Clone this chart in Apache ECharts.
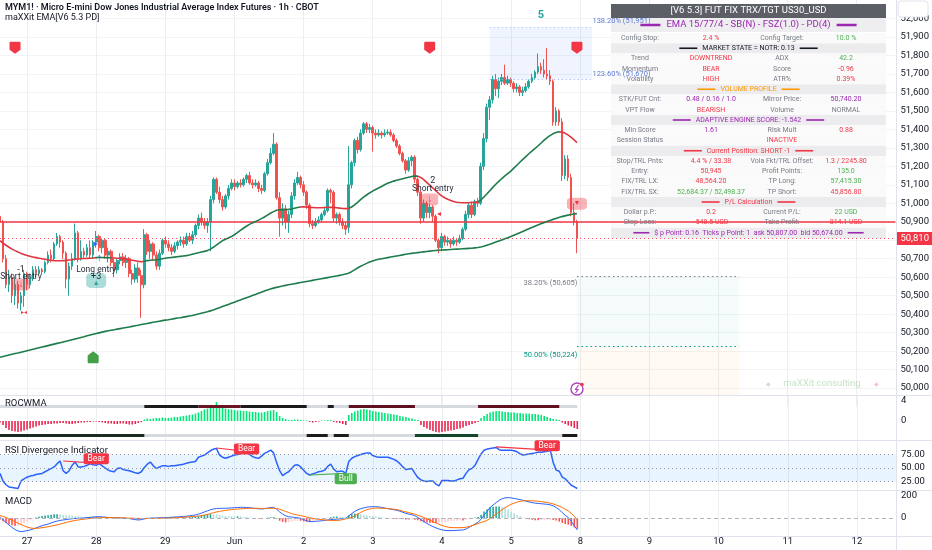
<!DOCTYPE html>
<html><head><meta charset="utf-8">
<script src="https://cdn.jsdelivr.net/npm/echarts@6/dist/echarts.min.js"></script>
<style>html,body{margin:0;padding:0;background:#fff}#c{width:932px;height:550px}</style>
</head><body><div id="c"></div>
<script>
// ---------- DATA ----------
const dayLabels = ['26','27','28','29','Jun','2','3','4','5','8','9','10','11','12'];
const barsPerDay = 23, firstBar = 14, slotCount = 299;

const opens = [50930,50900,50700,50560,50600,50500,50560,50460,50500,50620,
50560,50600,50640,50620,50640,50630,50680,50720,50700,50780,
50820,50790,50730,50590,50660,50700,50840,50700,50740,50720,
50760,50720,50790,50820,50760,50800,50720,50740,50680,50640,
50690,50710,50680,50700,50620,50590,50650,50610,50560,50830,
50740,50780,50720,50660,50730,50800,50780,50760,50740,50770,
50790,50800,50780,50820,50800,50830,50880,50920,50900,50880,
50900,51020,51130,51060,51020,50980,51040,51080,51110,51090,
51110,51100,51130,51150,51110,51100,51110,51080,51070,51160,
51220,51270,51320,51030,50920,50970,50900,50940,51040,51110,
51140,51100,51060,50990,50890,50880,50900,50910,50940,50960,
51070,51060,50920,50940,50900,50880,50870,51100,51220,51340,
51290,51380,51430,51400,51410,51380,51370,51380,51370,51380,
51385,51370,51340,51310,51270,51230,51180,51230,51250,51130,
51060,50920,51000,50950,50980,50930,50800,50760,50820,50790,
50800,50780,50800,50790,50810,50860,50940,50990,50940,51010,
51000,51200,51350,51520,51560,51670,51620,51660,51680,51650,
51670,51650,51620,51630,51600,51610,51630,51660,51680,51710,
51740,51720,51700,51690,51660,51440,51500,51440,51150,51240,
51140,50950,50900];
const highs = [50960,50910,50720,50640,50620,50600,50580,50520,50640,50630,
50620,50660,50660,50660,50650,50690,50740,50750,50790,50840,
50830,50800,50740,50680,50730,50890,50850,50800,50760,50780,
50800,50800,50850,50830,50810,50810,50760,50750,50700,50700,
50730,50730,50720,50710,50640,50670,50680,50640,50860,50840,
50800,50790,50740,50750,50810,50820,50800,50780,50790,50800,
50820,50820,50840,50840,50850,50890,50940,50950,50920,50920,
51040,51140,51140,51090,51040,51050,51100,51130,51130,51120,
51130,51140,51160,51170,51130,51130,51120,51100,51170,51240,
51300,51380,51330,51060,51000,50990,50960,51060,51130,51170,
51150,51120,51070,51000,50910,50920,50930,50950,50980,51080,
51080,51070,50950,50950,50920,50900,51310,51230,51350,51360,
51400,51440,51440,51430,51420,51400,51400,51390,51400,51400,
51400,51380,51350,51320,51280,51240,51250,51260,51260,51140,
51070,51020,51010,51000,50990,50940,50810,50840,50830,50820,
50810,50820,50810,50830,50870,50960,51000,51010,51020,51030,
51220,51380,51540,51580,51690,51700,51680,51700,51750,51690,
51680,51660,51650,51640,51630,51650,51670,51700,51720,51810,
51760,51780,51840,51720,51670,51520,51510,51460,51260,51260,
51160,51000,50910];
const lows = [50880,50680,50540,50520,50460,50450,50430,50420,50440,50530,
50540,50580,50600,50610,50615,50620,50670,50680,50690,50770,
50760,50700,50540,50500,50640,50690,50680,50690,50700,50710,
50700,50700,50760,50740,50730,50700,50680,50660,50600,50620,
50670,50660,50650,50600,50560,50570,50570,50380,50540,50720,
50700,50690,50640,50640,50720,50760,50740,50720,50730,50750,
50770,50760,50770,50790,50780,50820,50860,50880,50860,50840,
50740,51000,51050,51000,50960,50970,51020,51070,51070,51080,
51085,51090,51110,51100,51080,51090,51060,51050,51060,51150,
51210,51260,51020,50820,50880,50860,50840,50920,51020,51100,
51080,51040,50970,50870,50860,50870,50890,50900,50930,50950,
51000,50900,50890,50880,50860,50830,50840,51080,51200,51270,
51280,51370,51380,51380,51280,51350,51360,51350,51360,51370,
51360,51330,51300,51260,51220,51160,51170,51200,51110,51040,
50890,50900,50920,50920,50900,50790,50730,50740,50770,50770,
50760,50770,50770,50780,50800,50850,50920,50920,50930,50980,
50990,51180,51330,51450,51540,51580,51570,51640,51640,51640,
51630,51600,51600,51580,51580,51600,51620,51650,51670,51700,
51700,51680,51670,51640,51420,51420,51420,51120,51130,51120,
50930,50880,50730];
const closes = [50900,50700,50560,50600,50500,50560,50460,50500,50620,50560,
50600,50640,50620,50640,50630,50680,50720,50700,50780,50820,
50790,50730,50590,50660,50700,50840,50700,50740,50720,50760,
50720,50790,50820,50760,50800,50720,50740,50680,50640,50690,
50710,50680,50700,50620,50590,50650,50610,50560,50830,50740,
50780,50720,50660,50730,50800,50780,50760,50740,50770,50790,
50800,50780,50820,50800,50830,50880,50920,50900,50880,50900,
51020,51130,51060,51020,50980,51040,51080,51110,51090,51110,
51100,51130,51150,51110,51100,51110,51080,51070,51160,51220,
51270,51320,51030,50920,50970,50900,50940,51040,51110,51140,
51100,51060,50990,50890,50880,50900,50910,50940,50960,51070,
51060,50920,50940,50900,50880,50860,51100,51220,51340,51290,
51380,51430,51400,51410,51380,51370,51380,51370,51380,51385,
51370,51340,51310,51270,51230,51180,51230,51250,51130,51060,
50920,51000,50950,50980,50930,50800,50760,50820,50790,50800,
50780,50800,50790,50810,50860,50940,50990,50940,51010,51000,
51200,51350,51520,51560,51670,51620,51660,51680,51650,51670,
51650,51620,51630,51600,51610,51630,51660,51680,51710,51740,
51720,51700,51690,51660,51440,51500,51440,51150,51240,51140,
50950,50900,50810];

const emaFast = [50798,50785,50773,50762,50752,50744,50736,50729,50723,50718,
50713,50709,50706,50703,50700,50697,50694,50692,50690,50689,
50689,50690,50691,50693,50695,50698,50699,50700,50701,50702,
50703,50704,50706,50707,50707,50706,50706,50705,50704,50703,
50702,50700,50698,50695,50692,50689,50686,50684,50686,50690,
50692,50693,50694,50696,50700,50703,50705,50707,50709,50711,
50713,50715,50717,50720,50724,50728,50732,50736,50740,50744,
50752,50762,50774,50786,50797,50805,50812,50820,50830,50841,
50853,50865,50876,50886,50894,50901,50909,50917,50926,50936,
50946,50955,50962,50965,50966,50966,50967,50969,50973,50977,
50980,50981,50980,50978,50977,50976,50976,50976,50977,50978,
50979,50978,50976,50974,50972,50971,50972,50980,50992,51005,
51020,51033,51045,51056,51066,51075,51083,51091,51100,51108,
51114,51120,51125,51129,51133,51137,51141,51145,51148,51147,
51140,51128,51113,51098,51084,51068,51053,51040,51030,51022,
51015,51010,51006,51004,51003,51003,51003,51004,51005,51008,
51018,51033,51050,51068,51086,51103,51119,51134,51148,51161,
51174,51190,51206,51222,51238,51253,51268,51282,51296,51310,
51325,51340,51354,51366,51376,51383,51387,51386,51380,51370,
51358,51344,51328];
const fastTrend = [[0,32,'dn'],[32,37,'up'],[37,48,'dn'],[48,100,'up'],[100,116,'dn'],[116,139,'up'],[139,159,'dn'],[159,186,'up'],[186,193,'dn']];
const emaSlow = [50167,50171,50175,50179,50183,50187,50190,50194,50198,50202,
50206,50210,50214,50218,50222,50226,50230,50234,50238,50242,
50246,50250,50254,50258,50262,50266,50270,50274,50278,50283,
50287,50291,50295,50299,50303,50307,50310,50313,50316,50319,
50322,50325,50328,50331,50334,50337,50340,50344,50347,50350,
50353,50356,50359,50362,50365,50368,50370,50373,50376,50379,
50381,50384,50387,50390,50393,50397,50401,50405,50409,50413,
50418,50423,50429,50435,50441,50447,50453,50459,50465,50471,
50477,50483,50489,50495,50501,50507,50513,50519,50525,50531,
50536,50541,50545,50549,50553,50556,50559,50562,50565,50568,
50571,50574,50577,50580,50583,50586,50589,50592,50595,50598,
50601,50604,50607,50610,50613,50617,50622,50630,50640,50650,
50659,50667,50675,50682,50688,50693,50697,50700,50703,50706,
50709,50712,50715,50718,50721,50724,50727,50729,50731,50733,
50735,50737,50739,50741,50743,50745,50746,50747,50748,50749,
50750,50751,50752,50753,50754,50755,50756,50757,50759,50761,
50764,50768,50773,50778,50784,50790,50796,50802,50808,50814,
50820,50827,50834,50841,50848,50855,50862,50869,50876,50883,
50889,50895,50901,50907,50913,50918,50923,50928,50932,50936,
50939,50942,50944];

const rocValues = [-0.3,-0.8,-1.4,-1.8,-2.0,-2.1,-2.2,-2.1,-1.9,-1.7,-1.5,-1.3,-1.1,-0.9,-0.8,-0.7,
-0.6,-0.6,-0.5,-0.5,-0.4,-0.4,-0.5,-0.6,-0.6,-0.5,-0.4,-0.3,-0.3,-0.2,-0.2,-0.1,-0.1,-0.2,-0.3,-0.4,-0.5,-0.5,-0.6,-0.6,-0.5,-0.5,-0.6,-0.7,-0.7,-0.6,-0.4,-0.2,
0.3,0.5,0.4,0.5,0.6,0.6,0.7,0.6,0.6,0.7,0.8,0.8,0.9,1.0,1.1,1.2,1.3,1.5,1.7,
2.0,2.3,2.5,2.8,3.2,3.8,2.7,2.6,2.5,2.4,2.3,
2.2,2.1,2.1,2.0,2.0,1.9,1.8,1.8,1.7,1.7,1.8,2.0,2.1,2.2,1.8,
1.0,0.6,0.4,0.2,0.2,0.3,0.3,0.2,0.1,0.1,-0.2,-0.3,-0.2,-0.1,0.1,0.1,0.2,0.2,-0.2,-0.3,-0.4,-0.6,-0.8,
1.2,1.6,1.9,2.1,2.3,2.4,2.3,2.2,2.0,1.9,1.8,1.7,1.6,1.5,1.4,1.3,1.2,1.0,0.9,0.8,0.6,0.5,0.3,0.2,
-0.8,-1.2,-1.5,-1.8,-2.0,-2.2,-2.3,-2.2,-2.1,-2.0,-1.9,-1.8,-1.6,-1.5,-1.3,-1.0,-0.8,-0.6,-0.4,-0.2,
0.6,1.0,1.4,1.7,1.9,2.0,2.0,1.9,1.8,1.8,1.7,1.7,1.6,1.6,1.5,1.5,1.5,1.4,1.4,1.3,1.2,1.0,0.8,0.6,0.4,0.3,0.2,
-0.3,-0.6,-0.9,-1.1,-1.4,-1.6];
const rocTopLevel = 3, rocBottomLevel = -2.8;
const rocTopSegments = [[48,66,'#1c1c1c'],[66,80,'#6d1424'],[80,102,'#1c1c1c'],[109,111,'#1c1c1c'],[116,138,'#5e1020'],[159,186,'#5e1020']];
const rocBottomSegments = [[0,48,'#1c2b22'],[102,109,'#1c1c1c'],[111,116,'#1c1c1c'],[138,159,'#12452a'],[187,192,'#1c1c1c']];

const rsiValues = [40,26,19,15,14,13,12,26,30,33,
35,36,38,39,40,43,46,49,52,58,
63,45,40,45,55,61,52,52,53,55,
58,56,55,58,54,50,46,44,43,49,
50,47,46,45,43,41,40,43,51,57,
61,54,49,52,54,54,53,54,54,55,
56,57,59,60,61,62,70,72,74,78,
82,85,86,74,70,68,70,72,74,75,
77,78,79,75,71,69,68,72,77,80,
83,78,60,45,36,40,43,49,55,56,
52,46,40,37,39,41,43,44,46,53,
57,48,43,44,44,40,62,68,71,73,
75,77,78,78,73,71,70,70,70,70,
68,66,63,58,52,47,48,49,40,32,
28,26,25,26,26,20,17,27,27,27,
26,26,28,30,31,40,47,49,55,66,
76,83,85,86,87,88,84,83,83,83,
83,82,80,76,74,75,76,77,78,79,
79,80,81,83,60,46,44,33,30,24,
18,15,12];
const rsiDivergences = [[21,63,33,58.7,'Bear'],[72,87,86,78,'Bear'],[103,37,115,40,'Bull'],[165,89,183,83,'Bear']];
const rsiDivLabels = [[32,67,'Bear'],[82,85,'Bear'],[115,30,'Bull'],[182,91,'Bear']];

const macdLine = [5,-15,-40,-64,-85,-105,-118,-124,-120,-115,
-109,-100,-90,-80,-70,-62,-55,-45,-35,-28,
-22,-18,-14,-10,-7,-4,-3,-2,0,3,
6,9,11,12,10,8,5,3,2,1,
0,-2,-3,-5,-10,-15,-18,-15,-8,-3,
-2,-1,0,1,2,3,5,7,9,10,
12,14,16,20,24,28,35,45,55,65,
75,82,86,88,88,89,90,92,94,96,
97,97,96,94,90,86,84,82,85,90,
95,97,80,55,35,20,12,8,5,2,
-3,-15,-25,-33,-33,-30,-28,-25,-22,-18,
-15,-12,-10,-8,-5,-3,20,40,60,75,
85,92,98,102,103,103,100,96,90,85,
80,75,70,62,52,42,35,30,20,5,
-15,-33,-50,-65,-78,-90,-100,-108,-112,-115,
-115,-114,-112,-110,-109,-100,-85,-70,-55,-40,
-10,25,60,95,118,140,160,175,183,185,
183,178,172,168,160,153,146,140,135,132,
130,127,124,120,110,95,75,50,25,5,
-30,-70,-109];
const macdSignal = [22,15,5,-8,-20,-33,-48,-60,-72,-82,
-90,-94,-94,-92,-88,-84,-79,-74,-68,-62,
-55,-48,-40,-33,-28,-22,-18,-14,-10,-7,
-4,-2,0,2,3,4,4,4,3,3,
2,1,0,-1,-2,-3,-4,-5,-5,-5,
-4,-4,-3,-3,-2,-2,-1,0,1,3,
5,7,9,11,13,15,18,22,27,33,
40,48,55,60,65,70,73,76,79,81,
83,85,87,88,88,88,88,87,87,87,
88,89,87,80,70,60,50,40,32,27,
22,15,9,3,-3,-8,-12,-15,-18,-20,
-22,-24,-23,-20,-15,-8,-3,5,20,35,
50,65,75,82,88,90,90,89,88,86,
83,80,76,70,62,55,48,42,35,25,
15,5,-8,-20,-33,-45,-57,-68,-77,-83,
-87,-88,-88,-88,-87,-84,-78,-70,-60,-50,
-40,-33,-20,-5,15,35,55,75,95,110,
125,135,145,152,156,157,157,156,155,152,
149,145,140,135,128,118,108,95,80,65,
42,15,-18];
const macdHist = [-17,-30,-45,-56,-65,-72,-70,-64,-48,-33,
-19,-6,4,12,18,22,24,29,33,34,
33,30,26,23,21,18,15,12,10,10,
10,11,11,10,7,4,1,-1,-1,-2,
-2,-3,-3,-4,-8,-12,-14,-10,-3,2,
2,3,3,4,4,5,6,7,8,7,
7,7,7,9,11,13,17,23,28,32,
35,34,31,28,23,19,17,16,15,15,
14,12,9,6,2,-2,-4,-5,-2,3,
7,8,-7,-25,-35,-40,-38,-32,-27,-25,
-25,-30,-34,-36,-30,-22,-16,-10,-4,2,
7,12,13,12,10,5,23,35,40,40,
35,27,23,20,15,13,10,7,2,-1,
-3,-5,-6,-8,-10,-13,-13,-12,-15,-20,
-30,-38,-42,-45,-45,-45,-43,-40,-35,-32,
-28,-26,-24,-22,-22,-16,-7,0,5,10,
30,58,80,100,103,105,105,100,88,75,
58,43,27,16,4,-4,-11,-16,-20,-20,
-19,-18,-16,-15,-18,-23,-33,-45,-55,-60,
-72,-85,-98];

// levels and signals
const lastPrice = 50810, stopLevel = 50900;
const fibZone = [163, 197, 51951, 51670];
const fibZoneLabels = [['138.20% (51,951)', 51985], ['123.60% (51,670)', 51700]];
const fibLower = [[50605, '38.20% (50,605)', '#787b86', 50566], [50224, '50.00% (50,224)', '#089981', 50177]];
const fibLowerRange = [192, 246];
const sellSignalSlots = [5, 143, 192], sellSignalPrice = 51841;
const buySignalSlots = [31], buySignalPrice = 50167;
const waveLabel = [180, 52019, '5'];
const entryTexts = [[7,50642,'-1'],[7,50604,'Short entry'],[32,50642,'Long entry'],[32,50600,'+3'],[144,51122,'2'],[144,51079,'Short entry']];
const shortBoxes = [[7,50560],[143,51020],[192,50998]];
const longBoxes = [[31.6,50582]];

// table text
const tableTitle = '[V6 5.3] FUT FIX TRX/TGT US30_USD';
const tableSub = 'EMA 15/77/4 - SB(N) - FSZ(1.0) - PD(4)';
const R='#f23645', G='#4caf50', P='#9c27b0', GR='#787b86', O='#ff9800', K='#131722';
const tableRows = [
 ['Config Stop:','2.4 %',R,'Config Target:','10.0 %',G],
 ['MARKET STATE = NOTR: 0.13',K],
 ['Trend','DOWNTREND',R,'ADX','42.2',G],
 ['Momentum','BEAR',R,'Score','-0.96',R],
 ['Volatility','HIGH',R,'ATR%','0.39%',R],
 ['VOLUME PROFILE',O],
 ['STK/FUT Cnt:','0.48 / 0.16 / 1.0',P,'Mirror Price:','50,740.20',P],
 ['VPT Flow','BEARISH',R,'Volume','NORMAL',GR],
 ['ADAPTIVE ENGINE SCORE: -1.542',P],
 ['Min Score','1.61',P,'Risk Mult','0.88',R],
 ['Session Status','',R,'INACTIVE@','',R],
 ['Current Position: SHORT -1',R],
 ['Stop/TRL Pnts:','4.4 % / 33.38',R,'Vola Fkt/TRL Offset:','1.3 / 2245.80',R],
 ['Entry:','50,945',R,'Profit Points:','135.0',G],
 ['FIX/TRL LX:','48,564.20',R,'TP Long:','57,415.30',G],
 ['FIX/TRL SX:','52,684.37 / 52,498.37',G,'TP Short:','45,856.80',R],
 ['P/L Calculation',R],
 ['Dollar p.P.:','0.2',R,'Current P/L:','22 USD',G],
 ['Stop Loss:','-548.5 USD',R,'Take Profit:','814.1 USD',R],
 ['$ p Point: 0.16  Ticks p Point: 1  ask 50,807.00  bid 50,674.00',P]
];

// ---------- BUILD ----------
const cats = [];
dayLabels.forEach(d => { for (let h = 0; h < barsPerDay; h++) cats.push(d + '|' + h); });
const categories = cats.slice(firstBar, firstBar + slotCount);
const isDayStart = v => v.split('|')[1] === '0';

const FONT = 'Roboto';
const candleData = opens.map((o, i) => [o, closes[i], lows[i], highs[i]]);
const rocData = rocValues.map(v => ({value: v, itemStyle: {color: v >= 0 ? '#00e676' : '#e8254f'}}));
const histData = macdHist.map((v, i) => {
  const p = i > 0 ? macdHist[i-1] : v;
  let c;
  if (v >= 0) c = v >= p ? '#26a69a' : '#b2dfdb'; else c = v <= p ? '#ff5252' : '#ffcdd2';
  return {value: v, itemStyle: {color: c}};
});

const shieldDown = 'path://M2,0 H18 Q20,0 20,2 V13 L10,20 L0,13 V2 Q0,0 2,0 Z';
const shieldUp = 'path://M10,0 L20,7 V18 Q20,20 18,20 H2 Q0,20 0,18 V7 Z';
const txt = (coord, text, color, size, extra) => Object.assign({coord, symbol: 'circle', symbolSize: 1, itemStyle: {color: 'rgba(0,0,0,0)'},
  label: Object.assign({show: true, position: 'inside', formatter: text, color, fontSize: size, fontFamily: FONT}, extra || {})});

const mainPoints = [];
sellSignalSlots.forEach(s => mainPoints.push({coord: [s, sellSignalPrice], symbol: shieldDown, symbolSize: [11, 12], itemStyle: {color: '#f23645'}, label: {show: false}}));
buySignalSlots.forEach(s => mainPoints.push({coord: [s, buySignalPrice], symbol: shieldUp, symbolSize: [11, 12], itemStyle: {color: '#43a047'}, label: {show: false}}));
shortBoxes.forEach(([s, p], i) => mainPoints.push({coord: [s, p], symbol: 'roundRect', symbolSize: i === 2 ? [20, 12] : [17, 12], itemStyle: {color: 'rgba(242,54,69,0.38)'},
  label: {show: true, position: 'inside', formatter: i === 2 ? '▼' : '↓', color: '#f23645', fontSize: i === 2 ? 7 : 10, fontWeight: 'bold'}}));
longBoxes.forEach(([s, p]) => mainPoints.push({coord: [s, p], symbol: 'roundRect', symbolSize: [20, 15], itemStyle: {color: 'rgba(38,166,154,0.38)'},
  label: {show: true, position: 'inside', formatter: '▲', color: '#26a69a', fontSize: 7, offset: [0, 3]}}));
entryTexts.forEach(([s, p, t]) => mainPoints.push(txt([s, p], t, '#2a2e39', t.length > 3 ? 8.5 : 9)));
mainPoints.push(txt([32.5, 50701], '↑', '#2962ff', 11, {fontWeight: 'bold'}));
mainPoints.push(txt([32, 50782], '▸', '#2962ff', 8));
mainPoints.push(txt([145.5, 50944], '◂', '#f23645', 8));
mainPoints.push(txt([8, 50410], '▸◂', '#f23645', 6));
mainPoints.push(txt([waveLabel[0], waveLabel[1]], waveLabel[2], '#26a69a', 11, {fontWeight: 'bold'}));
fibZoneLabels.forEach(([t, p]) => mainPoints.push(txt([fibZone[1] - 1, p], t, '#5b7bd5', 7.5, {position: 'right', distance: 3})));
fibLower.forEach(([lv, t, c, p]) => mainPoints.push(txt([fibLowerRange[0] + 0.5, p], t, c, 7.5, {position: 'left', distance: 2})));

const mainLines = [
  {yAxis: stopLevel, lineStyle: {color: '#f23645', width: 1.5, type: 'solid'}},
  {yAxis: lastPrice, lineStyle: {color: '#f7525f', width: 1, type: [1, 3]},
   label: {show: true, position: 'end', formatter: lastPrice.toLocaleString('en-US'), backgroundColor: '#f23645', color: '#fff', padding: [2, 4, 1, 4], fontSize: 9.5, fontFamily: FONT, distance: 1}},
  [{coord: [fibZone[0], fibZone[2]], lineStyle: {color: '#9fb3e8', type: [1, 3], width: 1}}, {coord: [fibZone[1], fibZone[2]]}],
  [{coord: [fibZone[0], fibZone[3]], lineStyle: {color: '#9fb3e8', type: [1, 3], width: 1}}, {coord: [fibZone[1], fibZone[3]]}]
];
fibLower.forEach(([lv, t, c]) => mainLines.push([{coord: [fibLowerRange[0], lv], lineStyle: {color: c, type: [1.5, 3], width: 1.2}}, {coord: [fibLowerRange[1], lv]}]));

const mainAreas = [
  [{coord: [fibZone[0], fibZone[2]], itemStyle: {color: 'rgba(41,98,255,0.07)'}}, {coord: [fibZone[1], fibZone[3]]}],
  [{coord: [fibLowerRange[0], fibLower[0][0]], itemStyle: {color: 'rgba(8,153,129,0.045)'}}, {coord: [fibLowerRange[1], fibLower[1][0]]}],
  [{coord: [fibLowerRange[0], fibLower[1][0]], itemStyle: {color: 'rgba(255,152,0,0.045)'}}, {coord: [fibLowerRange[1], 49960]}]
];

const rocLines = [
  [{coord: [0, rocTopLevel], lineStyle: {color: '#d6d9df', width: 3, type: 'solid'}}, {coord: [192, rocTopLevel]}],
  [{coord: [0, rocBottomLevel], lineStyle: {color: '#d6d9df', width: 3, type: 'solid'}}, {coord: [192, rocBottomLevel]}]
];
rocTopSegments.forEach(([a, b, c]) => rocLines.push([{coord: [a, rocTopLevel], lineStyle: {color: c, width: 3, type: 'solid'}}, {coord: [b, rocTopLevel]}]));
rocBottomSegments.forEach(([a, b, c]) => rocLines.push([{coord: [a, rocBottomLevel], lineStyle: {color: c, width: 3, type: 'solid'}}, {coord: [b, rocBottomLevel]}]));

const rsiLines = [25, 50, 75].map(v => ({yAxis: v, lineStyle: {color: '#9598a1', type: [1, 3], width: 1}}));
rsiDivergences.forEach(([a, va, b, vb, k]) => rsiLines.push([{coord: [a, va], lineStyle: {color: k === 'Bull' ? '#4caf50' : '#f23645', width: 1.2, type: 'solid'}}, {coord: [b, vb]}]));
const rsiPoints = rsiDivLabels.map(([s, v, k]) => txt([s, v], k, '#fff', 8.5, {backgroundColor: k === 'Bull' ? '#4caf50' : '#f23645', padding: [1, 4, 1, 4], borderRadius: 2}));

// axes
const grids = [
  {left: 0, right: 36, top: -1, height: 407.6},
  {left: 0, right: 36, top: 396, height: 45},
  {left: 0, right: 36, top: 441, height: 54},
  {left: 0, right: 36, top: 490.5, height: 49.5},
  {left: 0, right: 36, top: 535, height: 1}
];
const xAxes = grids.map((g, i) => ({
  type: 'category', gridIndex: i, data: categories, boundaryGap: false,
  axisLine: {show: false}, axisTick: {show: false},
  axisLabel: {show: i === 4, interval: (idx, v) => isDayStart(v), formatter: v => v.split('|')[0], color: '#131722', fontSize: 9.5, fontFamily: FONT, margin: 1},
  splitLine: {show: i < 4, interval: (idx, v) => isDayStart(v), lineStyle: {color: '#eceef2', width: 1}}
}));
const yLab = {color: '#131722', fontSize: 9.5, fontFamily: FONT, margin: 5, showMinLabel: false, showMaxLabel: false};
const yAxes = [
  {type: 'value', gridIndex: 0, position: 'right', min: 49900, max: 52100, interval: 100, axisLine: {show: false}, axisTick: {show: false},
   axisLabel: Object.assign({}, yLab, {formatter: v => v.toLocaleString('en-US')}), splitLine: {lineStyle: {color: '#f3f4f7'}, showMinLine: false, showMaxLine: false}},
  {type: 'value', gridIndex: 1, position: 'right', min: -4, max: 5, interval: 4, axisLine: {show: false}, axisTick: {show: false}, axisLabel: yLab, splitLine: {show: false}},
  {type: 'value', gridIndex: 2, position: 'right', min: 0, max: 100, interval: 25, axisLine: {show: false}, axisTick: {show: false},
   axisLabel: Object.assign({}, yLab, {formatter: v => v.toFixed(2)}), splitLine: {show: false}},
  {type: 'value', gridIndex: 3, position: 'right', min: -200, max: 250, interval: 200, axisLine: {show: false}, axisTick: {show: false}, axisLabel: yLab, splitLine: {show: false}},
  {type: 'value', gridIndex: 4, show: false}
];

// graphics: titles, separators, table
const ctx = document.createElement('canvas').getContext('2d');
const tw = (t, s, w) => { ctx.font = (w || 'normal') + ' ' + s + 'px ' + FONT; return ctx.measureText(t).width; };
const G1 = [];
const T = (x, y, text, fill, size, opt) => G1.push(Object.assign({type: 'text', x, y, z: 10, style: Object.assign({text, fill, fontSize: size, fontFamily: FONT, align: 'left', verticalAlign: 'middle'}, opt || {})}));
const L = (x1, y1, x2, y2, stroke, w, z) => G1.push({type: 'line', z: z || 10, shape: {x1, y1, x2, y2}, style: {stroke, lineWidth: w}});
const RECT = (x, y, w, h, fill, z, extra) => G1.push({type: 'rect', z: z || 1, shape: Object.assign({x, y, width: w, height: h}, extra || {}), style: {fill}});

// separators
[395.5, 440.5, 490.5, 536.5].forEach(y => L(0, y, 932, y, '#e0e3eb', 1, 5));
L(896.5, 0, 896.5, 550, '#e0e3eb', 1, 5);
// titles
T(5, 8, 'MYM1! · Micro E-mini Dow Jones Industrial Average Index Futures · 1h · CBOT', '#131722', 9, {fontWeight: 600});
T(5, 18, 'maXXit EMA[V6 5.3 PD]', '#131722', 9);
T(5, 404, 'ROCWMA', '#131722', 9.5);
T(5, 450.5, 'RSI Divergence Indicator', '#131722', 9.5);
T(5, 502, 'MACD', '#131722', 9.5);
// USD box
G1.push({type: 'rect', z: 12, shape: {x: 898, y: 1, width: 30, height: 16, r: 3}, style: {fill: '#fff', stroke: '#e0e3eb', lineWidth: 1}});
T(913, 9, 'USD', '#131722', 9, {align: 'center'});
// watermark
T(822, 384, 'maXXit consulting', 'rgba(76,175,80,0.35)', 9.5, {align: 'center'});
T(768, 384, '◆', 'rgba(120,123,134,0.3)', 6, {align: 'center'});
T(876, 384, '◆', 'rgba(242,54,69,0.3)', 6, {align: 'center'});
// lightning icon
G1.push({type: 'circle', z: 12, shape: {cx: 577, cy: 389, r: 6}, style: {fill: '#fff', stroke: '#ab47bc', lineWidth: 1.4}});
G1.push({type: 'polyline', z: 13, shape: {points: [[578.5, 385], [575.5, 389.5], [578, 389.5], [575.5, 393]]}, style: {stroke: '#ab47bc', lineWidth: 1.2, fill: null}});
G1.push({type: 'circle', z: 13, shape: {cx: 582, cy: 384.5, r: 1.8}, style: {fill: '#f23645'}});

// table
const tx0 = 611, tx1 = 886, tc = (tx0 + tx1) / 2;
RECT(tx0, 4, tx1 - tx0, 14, '#5d5f66', 1);
T(tc, 11, tableTitle, '#ffffff', 9.5, {align: 'center', z: 2});
RECT(tx0, 18, tx1 - tx0, 14, '#eeeef0', 1);
const subW = tw(tableSub, 9.5);
T(tc, 25, tableSub, P, 9.5, {align: 'center'});
L(tc - subW / 2 - 26, 25, tc - subW / 2 - 6, 25, P, 2.5);
L(tc + subW / 2 + 6, 25, tc + subW / 2 + 26, 25, P, 2.5);
const colX = [640, 711, 782, 846];
tableRows.forEach((r, i) => {
  const yc = 38 + i * 10.25, top = yc - 5.1;
  if (r.length === 2) {
    RECT(tx0, top, tx1 - tx0, 10.25, '#ececee', 1);
    const w = tw(r[0], 7);
    T(tc, yc, r[0], r[1], 7, {align: 'center'});
    const lw = r[0].length > 40 ? 16 : 18;
    L(tc - w / 2 - lw - 5, yc, tc - w / 2 - 5, yc, r[1], 1.6);
    L(tc + w / 2 + 5, yc, tc + w / 2 + lw + 5, yc, r[1], 1.6);
  } else {
    RECT(tx0, top, tx1 - tx0, 10.25, 'rgba(250,250,251,0.95)', 1);
    T(colX[0], yc, r[0], GR, 7, {align: 'center'});
    if (r[1]) T(colX[1], yc, r[1], r[2], 7, {align: 'center'});
    if (r[3].endsWith('@')) T(colX[2], yc, r[3].slice(0, -1), r[5], 7, {align: 'center'});
    else { T(colX[2], yc, r[3], GR, 7, {align: 'center'}); T(colX[3], yc, r[4], r[5], 7, {align: 'center'}); }
  }
});

const option = {
  animation: false,
  backgroundColor: '#ffffff',
  textStyle: {fontFamily: FONT},
  grid: grids,
  xAxis: xAxes,
  yAxis: yAxes,
  visualMap: [{
    show: false, type: 'piecewise', seriesIndex: 1, dimension: 0,
    pieces: fastTrend.map(([a, b, t]) => ({gte: a, lt: b, color: t === 'up' ? '#1e7b4c' : '#e0343f'})),
    outOfRange: {color: '#1e7b4c'}
  }],
  graphic: {elements: G1},
  series: [
    {type: 'candlestick', xAxisIndex: 0, yAxisIndex: 0, data: candleData, barWidth: 2.2, z: 3,
     itemStyle: {color: '#26a69a', color0: '#ef5350', borderColor: '#26a69a', borderColor0: '#ef5350', borderWidth: 1},
     markPoint: {silent: true, data: mainPoints, z: 6},
     markLine: {silent: true, symbol: 'none', label: {show: false}, data: mainLines, z: 4},
     markArea: {silent: true, data: mainAreas, z: 1}},
    {type: 'line', xAxisIndex: 0, yAxisIndex: 0, data: emaFast, symbol: 'none', lineStyle: {width: 1.6}, z: 4},
    {type: 'line', xAxisIndex: 0, yAxisIndex: 0, data: emaSlow, symbol: 'none', lineStyle: {width: 1.6, color: '#1e7b4c'}, itemStyle: {color: '#1e7b4c'}, z: 4},
    {type: 'bar', xAxisIndex: 1, yAxisIndex: 1, data: rocData, barWidth: 1.6,
     markLine: {silent: true, symbol: 'none', label: {show: false}, data: rocLines}},
    {type: 'line', xAxisIndex: 2, yAxisIndex: 2, data: rsiValues, symbol: 'none', lineStyle: {width: 1.5, color: '#2962ff'}, itemStyle: {color: '#2962ff'}, z: 4,
     markArea: {silent: true, data: [[{yAxis: 25, itemStyle: {color: 'rgba(33,150,243,0.1)'}}, {yAxis: 75}]]},
     markLine: {silent: true, symbol: 'none', label: {show: false}, data: rsiLines},
     markPoint: {silent: true, data: rsiPoints}},
    {type: 'bar', xAxisIndex: 3, yAxisIndex: 3, data: histData, barWidth: 1.6,
     markLine: {silent: true, symbol: 'none', label: {show: false}, data: [{yAxis: 0, lineStyle: {color: '#b2b5be', type: [4, 3], width: 1}}]}},
    {type: 'line', xAxisIndex: 3, yAxisIndex: 3, data: macdLine, symbol: 'none', lineStyle: {width: 1, color: '#2962ff'}, itemStyle: {color: '#2962ff'}, z: 4},
    {type: 'line', xAxisIndex: 3, yAxisIndex: 3, data: macdSignal, symbol: 'none', lineStyle: {width: 1, color: '#ff6d00'}, itemStyle: {color: '#ff6d00'}, z: 4}
  ]
};
const chart = echarts.init(document.getElementById('c'), null, {renderer: 'canvas'});
chart.setOption(option);
</script></body></html>
